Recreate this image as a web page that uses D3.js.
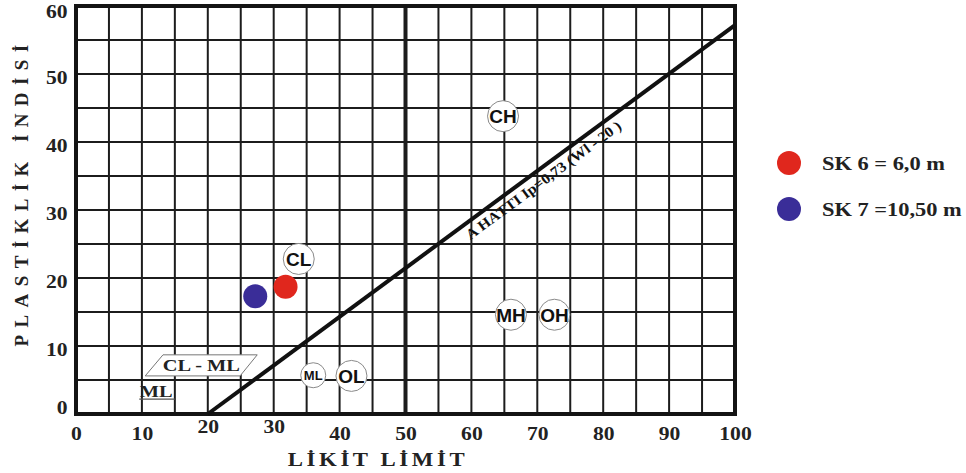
<!DOCTYPE html>
<html>
<head>
<meta charset="utf-8">
<script src="https://cdn.jsdelivr.net/npm/d3@7"></script>
<style>
  html, body { margin: 0; padding: 0; background: #fff; }
  svg { display: block; }
</style>
</head>
<body>
<svg id="chart" width="966" height="473"></svg>
<script>
// ---------- data ----------
const xTicks = [0, 10, 20, 30, 40, 50, 60, 70, 80, 90, 100];
const yTicks = [0, 10, 20, 30, 40, 50, 60];
const seriesNames = ["SK 6 = 6,0 m", "SK 7 =10,50 m"];
const seriesColors = ["#e0271d", "#3a2d98"];
const liquidLimit = [31.8, 27.2];
const plasticityIndex = [18.7, 17.3];
const zoneLabels = ["CH", "CL", "MH", "OH", "ML", "OL"];
const zoneLL = [64.8, 33.8, 66.0, 72.6, 36.0, 41.8];
const zonePI = [43.8, 22.8, 14.6, 14.6, 5.7, 5.6];
const aLineLL = [20, 100];
const aLinePI = [0, 57.2];
const aLineText = "A HATTI Ip=0,73 (Wl - 20 )";
const clmlLL = [13.2, 27.5, 24.9, 10.5];
const clmlPI = [8.7, 8.7, 5.6, 5.6];
const mlLineLL = [9.6, 15];
const mlLinePI = [2.2, 2.2];
const xTitle = "LİKİT LİMİT";
const yTitle = "PLASTİKLİK İNDİSİ";

// ---------- layout ----------
const svg = d3.select("#chart");
const x = d3.scaleLinear().domain([0, 100]).range([76, 735]);
const y = d3.scaleLinear().domain([0, 60]).range([414, 6]);
const serif = "'Liberation Serif', 'Times New Roman', serif";
const sans = "'Liberation Sans', Arial, sans-serif";
const SX = 1.2;

// grid
const gridG = svg.append("g");
gridG.selectAll("line.v").data(x.ticks(20).filter(d => d > 0 && d < 100))
  .join("line")
  .attr("x1", d => x(d)).attr("x2", d => x(d))
  .attr("y1", y(0)).attr("y2", y(60))
  .attr("stroke", "#1c1c1c")
  .attr("stroke-width", d => d === 50 ? 4 : 2);
gridG.selectAll("line.h").data(y.ticks(12).filter(d => d > 0 && d < 60))
  .join("line")
  .attr("x1", x(0)).attr("x2", x(100))
  .attr("y1", d => y(d)).attr("y2", d => y(d))
  .attr("stroke", "#1c1c1c")
  .attr("stroke-width", 2);

// frame
svg.append("rect")
  .attr("x", x(0)).attr("y", y(60))
  .attr("width", x(100) - x(0)).attr("height", y(0) - y(60))
  .attr("fill", "none").attr("stroke", "#141414").attr("stroke-width", 4);

// A line
svg.append("line")
  .attr("x1", x(aLineLL[0])).attr("y1", y(aLinePI[0]))
  .attr("x2", x(aLineLL[1])).attr("y2", y(aLinePI[1]))
  .attr("stroke", "#111").attr("stroke-width", 4);

// A line label
{
  const dx = x(aLineLL[1]) - x(aLineLL[0]);
  const dy = y(aLinePI[1]) - y(aLinePI[0]);
  const ang = Math.atan2(dy, dx) * 180 / Math.PI;
  const t = 0.48;
  const px = x(aLineLL[0]) + dx * t, py = y(aLinePI[0]) + dy * t;
  svg.append("text")
    .attr("transform", `translate(${px},${py}) rotate(${ang}) translate(0,16)`)
    .attr("font-family", serif).attr("font-weight", "bold")
    .attr("font-size", 14.5).attr("fill", "#111")
    .attr("textLength", 189).attr("lengthAdjust", "spacingAndGlyphs")
    .text(aLineText);
}

// CL - ML box
svg.append("polygon")
  .attr("points", clmlLL.map((d, i) => [x(d), y(clmlPI[i])].join(",")).join(" "))
  .attr("fill", "#fff").attr("stroke", "#777").attr("stroke-width", 1);
svg.append("text")
  .attr("transform", `translate(${x(d3.mean(clmlLL))},${y(d3.mean(clmlPI)) + 6}) scale(${SX},1)`)
  .attr("text-anchor", "middle")
  .attr("font-family", serif).attr("font-weight", "bold")
  .attr("font-size", 17).attr("fill", "#222")
  .text("CL - ML");

// ML corner
svg.append("line")
  .attr("x1", x(mlLineLL[0])).attr("x2", x(mlLineLL[1]))
  .attr("y1", y(mlLinePI[0])).attr("y2", y(mlLinePI[1]))
  .attr("stroke", "#555").attr("stroke-width", 1.2);
svg.append("text")
  .attr("transform", `translate(${x(d3.mean(mlLineLL)) - 1},${y(mlLinePI[0]) - 2}) scale(${SX},1)`)
  .attr("text-anchor", "middle")
  .attr("font-family", serif).attr("font-weight", "bold")
  .attr("font-size", 17).attr("fill", "#222")
  .text("ML");

// zone labels
const zg = svg.append("g").selectAll("g").data(zoneLabels).join("g")
  .attr("transform", (d, i) => `translate(${x(zoneLL[i])},${y(zonePI[i])})`);
zg.append("circle")
  .attr("r", (d, i) => i === 4 ? 12.5 : 15.5)
  .attr("fill", "#fff").attr("stroke", "#8a8a8a").attr("stroke-width", 1);
zg.append("text")
  .attr("text-anchor", "middle")
  .attr("dy", (d, i) => i === 4 ? 5 : 7)
  .attr("font-family", sans).attr("font-weight", "bold")
  .attr("font-size", (d, i) => i === 4 ? 13 : 19)
  .attr("fill", "#111")
  .text(d => d);

// data points
svg.append("g").selectAll("circle").data(seriesNames).join("circle")
  .attr("cx", (d, i) => x(liquidLimit[i]))
  .attr("cy", (d, i) => y(plasticityIndex[i]))
  .attr("r", 12)
  .attr("fill", (d, i) => seriesColors[i]);

// axes
const xAxis = svg.append("g")
  .attr("transform", `translate(0,${y(0)})`)
  .call(d3.axisBottom(x).tickValues(xTicks).tickSize(0).tickPadding(0));
xAxis.select(".domain").remove();
xAxis.selectAll("text")
  .attr("font-family", serif).attr("font-weight", "bold")
  .attr("font-size", 18).attr("fill", "#222")
  .attr("dy", null)
  .attr("y", d => (d === 20 || d === 30) ? 13 : 20)
  .attr("dominant-baseline", "central")
  .attr("transform", `scale(${SX},1)`);

const yAxis = svg.append("g")
  .attr("transform", `translate(${x(0)},0)`)
  .call(d3.axisLeft(y).tickValues(yTicks).tickSize(0).tickPadding(0));
yAxis.select(".domain").remove();
yAxis.selectAll("text")
  .attr("font-family", serif).attr("font-weight", "bold")
  .attr("font-size", 18).attr("fill", "#222")
  .attr("dy", null)
  .attr("x", -7)
  .attr("y", d => d === 0 ? -7 : (d === 60 ? 5 : 3))
  .attr("dominant-baseline", "central")
  .attr("transform", `scale(${SX},1)`);

// axis titles
svg.append("text")
  .attr("transform", `translate(28,${(y(0) + y(60)) / 2 - 18}) rotate(-90)`)
  .attr("text-anchor", "middle")
  .attr("font-family", serif).attr("font-weight", "bold")
  .attr("font-size", 19).attr("letter-spacing", 7.4)
  .attr("fill", "#222")
  .text(yTitle);

svg.append("text")
  .attr("transform", `translate(378,466) scale(${SX},1)`)
  .attr("text-anchor", "middle")
  .attr("font-family", serif).attr("font-weight", "bold")
  .attr("font-size", 19).attr("letter-spacing", 3)
  .attr("fill", "#222")
  .text(xTitle);

// legend
const lg = svg.append("g").selectAll("g").data(seriesNames).join("g")
  .attr("transform", (d, i) => `translate(789,${163 + i * 46})`);
lg.append("circle").attr("r", 12).attr("fill", (d, i) => seriesColors[i]);
lg.append("text")
  .attr("transform", `translate(33,6.5) scale(1.18,1)`)
  .attr("font-family", serif).attr("font-weight", "bold")
  .attr("font-size", 19).attr("fill", "#222")
  .text(d => d);
</script>
</body>
</html>
